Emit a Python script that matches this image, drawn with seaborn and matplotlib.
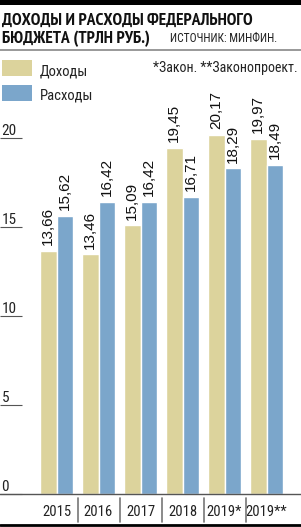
import matplotlib
matplotlib.use("Agg")
import matplotlib.pyplot as plt
import pandas as pd
import seaborn as sns
from matplotlib.patches import Rectangle
from matplotlib.lines import Line2D

years = ["2015", "2016", "2017", "2018", "2019*", "2019**"]
income = [13.66, 13.46, 15.09, 19.45, 20.17, 19.97]
spending = [15.62, 16.42, 16.42, 16.71, 18.29, 18.49]
series_names = ["Доходы", "Расходы"]
yticks = [0, 5, 10, 15, 20]

df = pd.DataFrame({
    "year": years * 2,
    "kind": [series_names[0]] * len(years) + [series_names[1]] * len(years),
    "value": income + spending,
})

sns.set_style("white")
COND = ["Roboto Condensed", "DejaVu Sans"]
NARROW = ["PT Sans Narrow", "DejaVu Sans"]
PLAIN = ["Liberation Sans", "DejaVu Sans"]
plt.rcParams["font.family"] = COND

YELLOW = "#dcd39c"
BLUE = "#7ba6cb"
W, H = 301, 527
fig = plt.figure(figsize=(W / 100, H / 100), dpi=100)

# axes placed in pixel terms: baseline at y=494, 17.8 px per unit
px_per_unit = 17.8
y0 = 494
ymax = 22
ax = fig.add_axes([0, (H - y0) / H, 1, ymax * px_per_unit / H])
ax.patch.set_alpha(0)

sns.barplot(data=df, x="year", y="value", hue="kind", palette=[YELLOW, BLUE],
            saturation=1, width=0.8, ax=ax, legend=False, errorbar=None)

ax.set_xlim(-56.5 / 42, (W - 56.5) / 42)
ax.set_ylim(0, ymax)
ax.set_xlabel("")
ax.set_ylabel("")

for c in ax.containers:
    labels = [f"{b.get_height():.2f}".replace(".", ",") for b in c]
    ax.bar_label(c, labels=labels, rotation=90, padding=4, fontsize=11,
                 family=PLAIN, color="#111")

for s in ["top", "right", "left"]:
    ax.spines[s].set_visible(False)
ax.spines["bottom"].set_color("#555")
ax.spines["bottom"].set_linewidth(1.0)

ax.set_yticks(yticks)
ax.set_yticklabels([str(t) for t in yticks])
ax.tick_params(axis="y", left=True, direction="in", length=16, width=0.8,
               color="#555", pad=-1, labelsize=11, labelcolor="#222")
plt.setp(ax.get_yticklabels(), ha="left", va="bottom")

ax.tick_params(axis="x", bottom=False, length=0, pad=8, labelsize=10.5,
               labelcolor="#222")

# separators between year groups
for i in range(len(years) - 1):
    ax.plot([i + 0.5, i + 0.5], [-4 / (ymax * px_per_unit), -28 / (ymax * px_per_unit)],
            transform=ax.get_xaxis_transform(), color="#777", lw=1.2, clip_on=False)


def fy(py):
    return 1 - py / H


# header decorations
fig.add_artist(Rectangle((0, fy(4.5)), 1, 4.5 / H, transform=fig.transFigure,
                         color="black", lw=0))
fig.add_artist(Line2D([0, 1], [fy(49.5), fy(49.5)], transform=fig.transFigure,
                      color="#888", lw=1.2))
fig.add_artist(Line2D([0, 1], [fy(525), fy(525)], transform=fig.transFigure,
                      color="black", lw=2))

fig.text(2 / W, fy(25), "ДОХОДЫ И РАСХОДЫ ФЕДЕРАЛЬНОГО", fontsize=12.5,
         family=NARROW, fontweight="bold", va="baseline", ha="left", color="#111")
fig.text(2 / W, fy(43), "БЮДЖЕТА (ТРЛН РУБ.)", fontsize=12.5,
         family=NARROW, fontweight="bold", va="baseline", ha="left", color="#111")
fig.text(170 / W, fy(42.5), "ИСТОЧНИК: МИНФИН.", fontsize=8.3,
         va="baseline", ha="left", color="#222")

# legend
for i, (name, col) in enumerate(zip(series_names, [YELLOW, BLUE])):
    top = 60 + i * 25
    fig.add_artist(Rectangle((2 / W, fy(top + 16)), 30 / W, 16 / H,
                             transform=fig.transFigure, color=col, lw=0))
    fig.text(40 / W, fy(top + 15), name, fontsize=10.5,
             va="baseline", ha="left", color="#222")
fig.text(298 / W, fy(72), "*Закон. **Законопроект.", fontsize=10,
         va="baseline", ha="right", color="#222")

fig.savefig("out.png", dpi=100)
